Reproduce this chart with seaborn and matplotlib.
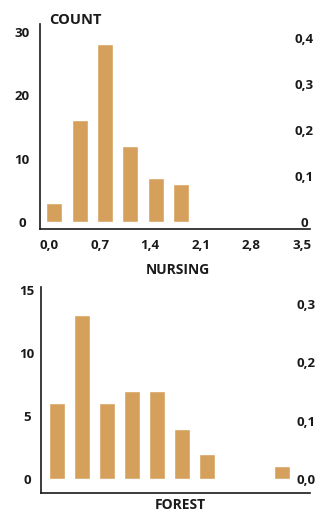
import matplotlib
matplotlib.use("Agg")
import matplotlib.pyplot as plt
import seaborn as sns

# nursing histogram (bin centres, counts)
nursing_bins = [0.075, 0.425, 0.775, 1.125, 1.475, 1.825]
nursing_counts = [3, 16, 28, 12, 7, 6]
nursing_xticks = [0.0, 0.7, 1.4, 2.1, 2.8, 3.5]
nursing_yticks = [0, 10, 20, 30]
nursing_dens_ticks = [0.0, 0.1, 0.2, 0.3, 0.4]

# forest histogram (bin index, counts)
forest_bins = list(range(10))
forest_counts = [6, 13, 6, 7, 7, 4, 2, 0, 0, 1]
forest_yticks = [0, 5, 10, 15]
forest_dens_ticks = [0.0, 0.1, 0.2, 0.3]

bar_color = "#D5A05C"
ink = "#1a1a1a"
tick_fs = 9.5

sns.set_style("white")
plt.rcParams['font.family'] = ['Open Sans', 'DejaVu Sans']
plt.rcParams['font.weight'] = 'bold'

W, H = 319, 513
fig = plt.figure(figsize=(W / 100, H / 100), dpi=100)

def comma(v, zero="0"):
    if v == 0:
        return zero
    return f"{v:.1f}".replace(".", ",")

def style_axes(ax, ypad):
    for s in ["top", "right"]:
        ax.spines[s].set_visible(False)
    for s in ["left", "bottom"]:
        ax.spines[s].set_color(ink)
        ax.spines[s].set_linewidth(1.2)
    ax.tick_params(axis="y", length=0, pad=ypad, labelsize=tick_fs, colors=ink)
    for lab in ax.get_yticklabels():
        lab.set_horizontalalignment("center")
        lab.set_fontweight("bold")

def style_twin(ax, pad):
    for s in ax.spines.values():
        s.set_visible(False)
    ax.tick_params(axis="y", length=0, pad=pad, labelsize=tick_fs, colors=ink)
    for lab in ax.get_yticklabels():
        lab.set_horizontalalignment("center")
        lab.set_fontweight("bold")

# top panel: nursing
ax1 = fig.add_axes([40 / W, (H - 229) / H, 270 / W, 205 / H])
sns.barplot(x=nursing_bins, y=nursing_counts, native_scale=True, width=0.63,
            color=bar_color, saturation=1, errorbar=None, ax=ax1)
ax1.set_xlim(-0.125, 3.61)
ax1.set_ylim(-1.1, 31.2)
ax1.set_xticks(nursing_xticks)
ax1.set_xticklabels([comma(v, "0,0") for v in nursing_xticks], fontweight="bold")
ax1.set_yticks(nursing_yticks)
ax1.set_yticklabels([str(v) for v in nursing_yticks])
ax1.tick_params(axis="x", length=0, pad=7, labelsize=tick_fs, colors=ink)
style_axes(ax1, 13)
ax1.set_xlabel("NURSING", fontsize=10, fontweight="bold", color=ink)
ax1.xaxis.set_label_coords(0.511, -0.2)
ax1.xaxis.label.set_va("center")
ax1.set_ylabel("COUNT", rotation=0, fontsize=10.5, fontweight="bold", color=ink,
               ha="left", va="center")
ax1.yaxis.set_label_coords(0.033, 1.02)

ax1b = ax1.twinx()
ax1b.set_ylim(-7 / 460, 198 / 460)
ax1b.set_yticks(nursing_dens_ticks)
ax1b.set_yticklabels([comma(v, "0") for v in nursing_dens_ticks])
style_twin(ax1b, -4)

# bottom panel: forest
ax2 = fig.add_axes([41 / W, (H - 493) / H, 269 / W, 206 / H])
sns.barplot(x=forest_bins, y=forest_counts, width=0.64,
            color=bar_color, saturation=1, errorbar=None, ax=ax2)
ax2.set_xlim(-0.64, 10.12)
ax2.set_ylim(-1.11, 15.24)
ax2.set_xticks([])
ax2.set_yticks(forest_yticks)
ax2.set_yticklabels([str(v) for v in forest_yticks])
style_axes(ax2, 10)
ax2.set_xlabel("FOREST", fontsize=10, fontweight="bold", color=ink)
ax2.xaxis.set_label_coords(0.517, -0.058)
ax2.xaxis.label.set_va("center")
ax2.set_ylabel("")

ax2b = ax2.twinx()
ax2b.set_ylim(-14 / 583, 192 / 583)
ax2b.set_yticks(forest_dens_ticks)
ax2b.set_yticklabels([comma(v, "0,0") for v in forest_dens_ticks])
style_twin(ax2b, -3)

fig.savefig("out.png", dpi=100)
